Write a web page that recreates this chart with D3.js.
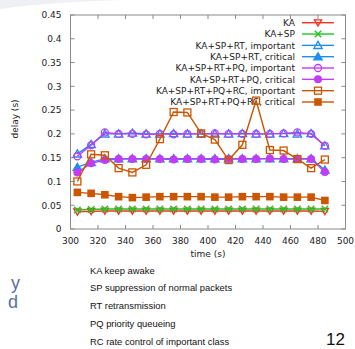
<!DOCTYPE html>
<html>
<head>
<meta charset="utf-8">
<script src="https://cdn.jsdelivr.net/npm/d3@7"></script>
<style>
  body { margin: 0; background: #fff; }
  svg { display: block; }
</style>
</head>
<body>
<script>
var times = [305, 315, 325, 335, 345, 355, 365, 375, 385, 395, 405, 415, 425, 435, 445, 455, 465, 475, 485];

var ka     = [0.036, 0.037, 0.038, 0.038, 0.038, 0.038, 0.038, 0.038, 0.038, 0.038, 0.038, 0.038, 0.038, 0.038, 0.038, 0.038, 0.038, 0.038, 0.037];
var kaSp   = [0.040, 0.041, 0.042, 0.042, 0.042, 0.042, 0.042, 0.042, 0.042, 0.042, 0.042, 0.042, 0.042, 0.042, 0.042, 0.042, 0.042, 0.042, 0.042];
var rtImp  = [0.158, 0.178, 0.200, 0.200, 0.202, 0.200, 0.200, 0.201, 0.200, 0.200, 0.200, 0.200, 0.201, 0.200, 0.200, 0.201, 0.200, 0.201, 0.175];
var rtCrit = [0.130, 0.140, 0.148, 0.148, 0.148, 0.148, 0.148, 0.148, 0.148, 0.148, 0.148, 0.148, 0.148, 0.148, 0.148, 0.148, 0.148, 0.148, 0.124];
var pqImp  = [0.153, 0.176, 0.203, 0.200, 0.200, 0.199, 0.200, 0.199, 0.200, 0.200, 0.201, 0.200, 0.200, 0.200, 0.200, 0.201, 0.203, 0.200, 0.175];
var pqCrit = [0.119, 0.138, 0.145, 0.147, 0.147, 0.147, 0.147, 0.146, 0.147, 0.147, 0.146, 0.147, 0.147, 0.147, 0.148, 0.147, 0.147, 0.147, 0.120];
var rcImp  = [0.100, 0.157, 0.155, 0.128, 0.119, 0.135, 0.189, 0.246, 0.245, 0.201, 0.188, 0.145, 0.177, 0.270, 0.166, 0.165, 0.147, 0.128, 0.146];
var rcCrit = [0.077, 0.075, 0.072, 0.068, 0.066, 0.067, 0.068, 0.068, 0.068, 0.068, 0.067, 0.067, 0.068, 0.068, 0.068, 0.067, 0.067, 0.067, 0.060];

var xTicks = [300, 320, 340, 360, 380, 400, 420, 440, 460, 480, 500];
var yTicks = [0, 0.05, 0.1, 0.15, 0.2, 0.25, 0.3, 0.35, 0.4, 0.45];

var notes = ["KA keep awake", "SP suppression of normal packets", "RT retransmission",
             "PQ priority queueing", "RC rate control of important class"];

// series: label, values, color, marker
var series = [
  {name: "KA", vals: ka, color: "#f5301e", mark: "tridown"},
  {name: "KA+SP", vals: kaSp, color: "#22c322", mark: "cross"},
  {name: "KA+SP+RT, important", vals: rtImp, color: "#1e8cf0", mark: "triopen"},
  {name: "KA+SP+RT, critical", vals: rtCrit, color: "#1e8cf0", mark: "trifill"},
  {name: "KA+SP+RT+PQ, important", vals: pqImp, color: "#c03cf5", mark: "circopen"},
  {name: "KA+SP+RT+PQ, critical", vals: pqCrit, color: "#c03cf5", mark: "circfill"},
  {name: "KA+SP+RT+PQ+RC, important", vals: rcImp, color: "#cc5500", mark: "sqopen"},
  {name: "KA+SP+RT+PQ+RC, critical", vals: rcCrit, color: "#cc5500", mark: "sqfill"}
];

var W = 355, H = 349;
var plotL = 70.5, plotR = 345.5, plotT = 15, plotB = 229;
var font = "DejaVu Sans, sans-serif";
var axisColor = "#8a8a8a";

var svg = d3.select("body").append("svg")
  .attr("width", W).attr("height", H);

// faint slide decoration top-left
svg.append("path")
  .attr("d", "M0,9 Q50,2 125,0 L0,0 Z")
  .attr("fill", "#eef0f3");

var x = d3.scaleLinear().domain([300, 500]).range([plotL, plotR]);
var y = d3.scaleLinear().domain([0, 0.45]).range([plotB, plotT]);

var g = svg.append("g");

// frame
g.append("rect")
  .attr("x", plotL).attr("y", plotT)
  .attr("width", plotR - plotL).attr("height", plotB - plotT)
  .attr("fill", "none").attr("stroke", axisColor).attr("stroke-width", 1);

// ticks inside, mirrored
xTicks.forEach(function(t) {
  g.append("line").attr("x1", x(t)).attr("x2", x(t)).attr("y1", plotB).attr("y2", plotB - 4)
    .attr("stroke", axisColor);
  g.append("line").attr("x1", x(t)).attr("x2", x(t)).attr("y1", plotT).attr("y2", plotT + 4)
    .attr("stroke", axisColor);
  g.append("text").attr("x", x(t)).attr("y", plotB + 15)
    .attr("text-anchor", "middle").attr("font-family", font).attr("font-size", 9)
    .attr("fill", "#222").text(t);
});
yTicks.forEach(function(t) {
  g.append("line").attr("x1", plotL).attr("x2", plotL + 4).attr("y1", y(t)).attr("y2", y(t))
    .attr("stroke", axisColor);
  g.append("line").attr("x1", plotR).attr("x2", plotR - 4).attr("y1", y(t)).attr("y2", y(t))
    .attr("stroke", axisColor);
  g.append("text").attr("x", plotL - 9).attr("y", y(t) + 3.3)
    .attr("text-anchor", "end").attr("font-family", font).attr("font-size", 9)
    .attr("fill", "#222").text(t);
});

// axis titles
g.append("text").attr("x", (plotL + plotR) / 2).attr("y", plotB + 28)
  .attr("text-anchor", "middle").attr("font-family", font).attr("font-size", 9)
  .attr("fill", "#222").text("time (s)");
g.append("text")
  .attr("transform", "translate(18," + ((plotT + plotB) / 2 - 3) + ")rotate(-90)")
  .attr("text-anchor", "middle").attr("font-family", font).attr("font-size", 9)
  .attr("fill", "#222").text("delay (s)");

function drawMark(sel, kind, color, cx, cy) {
  var s = 3.6;
  if (kind == "tridown") {
    sel.append("path").attr("d", "M" + (cx - s) + "," + (cy - s * 0.8) + "L" + (cx + s) + "," + (cy - s * 0.8) + "L" + cx + "," + (cy + s * 0.9) + "Z")
      .attr("fill", "none").attr("stroke", color).attr("stroke-width", 1.3);
  } else if (kind == "cross") {
    sel.append("path").attr("d", "M" + (cx - 3.2) + "," + (cy - 3.2) + "L" + (cx + 3.2) + "," + (cy + 3.2) + "M" + (cx - 3.2) + "," + (cy + 3.2) + "L" + (cx + 3.2) + "," + (cy - 3.2))
      .attr("stroke", color).attr("stroke-width", 1.4);
  } else if (kind == "triopen" || kind == "trifill") {
    s = 4.2;
    sel.append("path").attr("d", "M" + (cx - s) + "," + (cy + s * 0.75) + "L" + (cx + s) + "," + (cy + s * 0.75) + "L" + cx + "," + (cy - s * 0.95) + "Z")
      .attr("fill", kind == "trifill" ? color : "none").attr("stroke", color).attr("stroke-width", 1.3);
  } else if (kind == "circopen") {
    sel.append("circle").attr("cx", cx).attr("cy", cy).attr("r", 3.5)
      .attr("fill", "none").attr("stroke", color).attr("stroke-width", 1.3);
  } else if (kind == "circfill") {
    sel.append("circle").attr("cx", cx).attr("cy", cy).attr("r", 4)
      .attr("fill", color);
  } else if (kind == "sqopen") {
    sel.append("rect").attr("x", cx - 3.5).attr("y", cy - 3.5).attr("width", 7).attr("height", 7)
      .attr("fill", "none").attr("stroke", color).attr("stroke-width", 1.3);
  } else if (kind == "sqfill") {
    sel.append("rect").attr("x", cx - 3.8).attr("y", cy - 3.8).attr("width", 7.6).attr("height", 7.6)
      .attr("fill", color);
  }
}

// legend
var legY = 22.7, legStep = 11.33;
var key = g.append("g");
series.forEach(function(d, i) {
  var ly = legY + i * legStep;
  key.append("text").attr("x", 295).attr("y", ly + 3.3)
    .attr("text-anchor", "end").attr("font-family", font).attr("font-size", 9)
    .attr("fill", "#222").text(d.name);
  key.append("line").attr("x1", 302).attr("x2", 334).attr("y1", ly).attr("y2", ly)
    .attr("stroke", d.color).attr("stroke-width", 1.4);
  drawMark(key, d.mark, d.color, 318, ly);
});

// data lines and markers
var line = d3.line()
  .x(function(d) { return x(d[0]); })
  .y(function(d) { return y(d[1]); });

series.forEach(function(d) {
  var pts = times.map(function(t, i) { return [t, d.vals[i]]; });
  var sg = g.append("g");
  sg.append("path").datum(pts).attr("d", line)
    .attr("fill", "none").attr("stroke", d.color).attr("stroke-width", 1.4);
  pts.forEach(function(p) {
    drawMark(sg, d.mark, d.color, x(p[0]), y(p[1]));
  });
});

// slide notes below
notes.forEach(function(n, i) {
  svg.append("text").attr("x", 90).attr("y", 273.5 + i * 17.8)
    .attr("font-family", "Liberation Sans, Arial, sans-serif").attr("font-size", 9.4)
    .attr("fill", "#111").text(n);
});

// cut-off slide text at left
svg.append("text").attr("x", 20).attr("y", 289)
  .attr("text-anchor", "end").attr("font-family", "Liberation Sans, Arial, sans-serif")
  .attr("font-size", 18).attr("fill", "#5a6ea8").text("y");
svg.append("text").attr("x", 18).attr("y", 308)
  .attr("text-anchor", "end").attr("font-family", "Liberation Sans, Arial, sans-serif")
  .attr("font-size", 18).attr("fill", "#5a6ea8").text("d");

// page number
svg.append("text").attr("x", 345).attr("y", 345)
  .attr("text-anchor", "end").attr("font-family", "Liberation Sans, Arial, sans-serif")
  .attr("font-size", 17).attr("fill", "#111").text("12");
</script>
</body>
</html>
